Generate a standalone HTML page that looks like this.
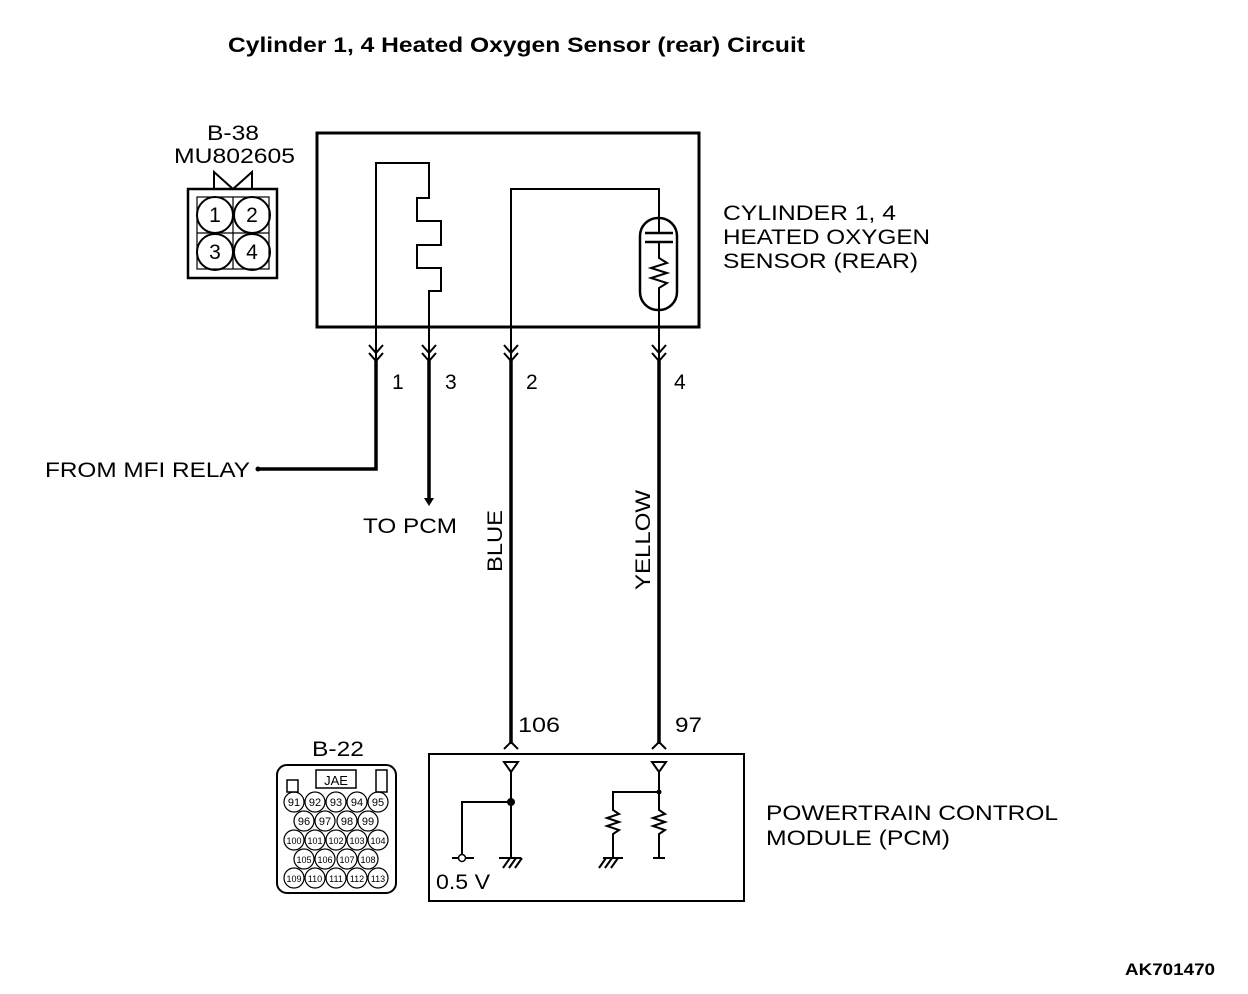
<!DOCTYPE html>
<html><head><style>
body{margin:0;background:#fff}
svg{display:block}
text{font-family:"Liberation Sans",Arial,sans-serif;fill:#000}
</style></head><body>
<svg width="1248" height="994" viewBox="0 0 1248 994" xmlns="http://www.w3.org/2000/svg">
<text x="228" y="52" font-size="21" font-weight="bold" textLength="577" lengthAdjust="spacingAndGlyphs">Cylinder 1, 4 Heated Oxygen Sensor (rear) Circuit</text>

<!-- B-38 connector -->
<text x="207" y="140" font-size="21" textLength="52" lengthAdjust="spacingAndGlyphs">B-38</text>
<text x="174" y="163" font-size="21" textLength="121" lengthAdjust="spacingAndGlyphs">MU802605</text>
<polyline points="214,189 214,172 233,189 252,172 252,189" fill="none" stroke="#000" stroke-width="2"/>
<rect x="188" y="189" width="89" height="89" fill="none" stroke="#000" stroke-width="2.5"/>
<rect x="197" y="197" width="72" height="72" fill="none" stroke="#000" stroke-width="1.2"/>
<line x1="233" y1="197" x2="233" y2="269" stroke="#000" stroke-width="1.2"/>
<line x1="197" y1="233" x2="269" y2="233" stroke="#000" stroke-width="1.2"/>
<g fill="none" stroke="#000" stroke-width="2">
<circle cx="215" cy="215" r="18"/><circle cx="252" cy="215" r="18"/>
<circle cx="215" cy="252" r="18"/><circle cx="252" cy="252" r="18"/>
</g>
<g font-size="21" text-anchor="middle">
<text x="215" y="222">1</text><text x="252" y="222">2</text>
<text x="215" y="259">3</text><text x="252" y="259">4</text>
</g>

<!-- Sensor box -->
<rect x="317" y="133" width="382" height="194" fill="none" stroke="#000" stroke-width="3"/>
<g fill="none" stroke="#000" stroke-width="2">
<polyline points="376,360 376,163 429,163 429,198 417,198 417,221 441,221 441,245 417,245 417,268 441,268 441,291 429,291 429,360"/>
<polyline points="511,360 511,189 659,189 659,218"/>
<rect x="640" y="218" width="37" height="92" rx="18" ry="18" stroke-width="2.5"/>
<line x1="659" y1="218" x2="659" y2="233"/>
<line x1="645" y1="233" x2="673" y2="233" stroke-width="2.5"/>
<line x1="645" y1="242" x2="673" y2="242" stroke-width="2.5"/>
<polyline points="659,242 659,258 667,263 651,268 667,273 651,278 667,283 659,288 659,360"/>
</g>
<g font-size="21">
<text x="723" y="220" textLength="173" lengthAdjust="spacingAndGlyphs">CYLINDER 1, 4</text>
<text x="723" y="244" textLength="207" lengthAdjust="spacingAndGlyphs">HEATED OXYGEN</text>
<text x="723" y="268" textLength="195" lengthAdjust="spacingAndGlyphs">SENSOR (REAR)</text>
</g>
<!-- double arrows -->
<g fill="none" stroke="#000" stroke-width="2">
<polyline points="369,345 376,353 383,345"/><polyline points="369,353 376,361 383,353"/>
<polyline points="422,345 429,353 436,345"/><polyline points="422,353 429,361 436,353"/>
<polyline points="504,345 511,353 518,345"/><polyline points="504,353 511,361 518,353"/>
<polyline points="652,345 659,353 666,345"/><polyline points="652,353 659,361 666,353"/>
</g>
<g font-size="21">
<text x="392" y="389">1</text><text x="445" y="389">3</text>
<text x="526" y="389">2</text><text x="674" y="389">4</text>
</g>

<!-- thick wires -->
<g fill="none" stroke="#000" stroke-width="3.5">
<polyline points="376,358 376,469 258,469"/>
<line x1="429" y1="358" x2="429" y2="500"/>
<line x1="511" y1="358" x2="511" y2="744"/>
<line x1="659" y1="358" x2="659" y2="744"/>
</g>
<circle cx="258" cy="469" r="2.5" fill="#000"/>
<polygon points="424,498 434,498 429,506" fill="#000"/>
<text x="45" y="477" font-size="21" textLength="205" lengthAdjust="spacingAndGlyphs">FROM MFI RELAY</text>
<text x="363" y="533" font-size="21" textLength="94" lengthAdjust="spacingAndGlyphs">TO PCM</text>
<text transform="translate(502,541) rotate(-90)" font-size="21" text-anchor="middle" textLength="62" lengthAdjust="spacingAndGlyphs">BLUE</text>
<text transform="translate(650,540) rotate(-90)" font-size="21" text-anchor="middle" textLength="100" lengthAdjust="spacingAndGlyphs">YELLOW</text>
<text x="518" y="732" font-size="21" textLength="42" lengthAdjust="spacingAndGlyphs">106</text>
<text x="675" y="732" font-size="21" textLength="27" lengthAdjust="spacingAndGlyphs">97</text>
<g fill="none" stroke="#000" stroke-width="2">
<polyline points="504,749 511,742 518,749"/>
<polyline points="652,749 659,742 666,749"/>
</g>

<!-- PCM box -->
<rect x="429" y="754" width="315" height="147" fill="none" stroke="#000" stroke-width="2"/>
<g fill="none" stroke="#000" stroke-width="2">
<polygon points="504,762 518,762 511,772"/>
<polygon points="652,762 666,762 659,772"/>
<polyline points="511,772 511,858"/>
<polyline points="511,802 462,802 462,855"/>
<line x1="452" y1="858" x2="474" y2="858"/>
<line x1="499" y1="858" x2="521" y2="858"/>
<line x1="503" y1="868" x2="510" y2="858"/><line x1="509" y1="868" x2="516" y2="858"/><line x1="515" y1="868" x2="522" y2="858"/>
<polyline points="659,772 659,810 665,814 653,818 665,822 653,826 665,830 659,834 659,858"/>
<line x1="653" y1="858" x2="665" y2="858"/>
<polyline points="659,792 613,792 613,810 619,814 607,818 619,822 607,826 619,830 613,834 613,858"/>
<line x1="603" y1="858" x2="623" y2="858"/>
<line x1="599" y1="868" x2="606" y2="858"/><line x1="605" y1="868" x2="612" y2="858"/><line x1="611" y1="868" x2="618" y2="858"/>
</g>
<circle cx="511" cy="802" r="4" fill="#000"/>
<circle cx="659" cy="792" r="2.5" fill="#000"/>
<circle cx="462" cy="858" r="3.5" fill="#fff" stroke="#000" stroke-width="1.5"/>
<text x="436" y="889" font-size="21" textLength="54" lengthAdjust="spacingAndGlyphs">0.5 V</text>
<text x="766" y="820" font-size="21" textLength="292" lengthAdjust="spacingAndGlyphs">POWERTRAIN CONTROL</text>
<text x="766" y="845" font-size="21" textLength="184" lengthAdjust="spacingAndGlyphs">MODULE (PCM)</text>

<!-- B-22 -->
<text x="312" y="756" font-size="21" textLength="52" lengthAdjust="spacingAndGlyphs">B-22</text>
<rect x="277" y="765" width="119" height="128" rx="10" ry="10" fill="none" stroke="#000" stroke-width="2"/>
<rect x="287" y="780" width="11" height="12" fill="none" stroke="#000" stroke-width="1.5"/>
<rect x="316" y="770" width="40" height="18" fill="none" stroke="#000" stroke-width="1.5"/>
<text x="336" y="785" font-size="13" font-family="Liberation Serif" text-anchor="middle">JAE</text>
<rect x="376" y="770" width="11" height="22" fill="none" stroke="#000" stroke-width="1.5"/>
<g fill="none" stroke="#000" stroke-width="1.2">
<circle cx="294" cy="802" r="10"/><circle cx="315" cy="802" r="10"/><circle cx="336" cy="802" r="10"/><circle cx="357" cy="802" r="10"/><circle cx="378" cy="802" r="10"/>
<circle cx="304" cy="821" r="10"/><circle cx="325" cy="821" r="10"/><circle cx="347" cy="821" r="10"/><circle cx="368" cy="821" r="10"/>
<circle cx="294" cy="840" r="10"/><circle cx="315" cy="840" r="10"/><circle cx="336" cy="840" r="10"/><circle cx="357" cy="840" r="10"/><circle cx="378" cy="840" r="10"/>
<circle cx="304" cy="859" r="10"/><circle cx="325" cy="859" r="10"/><circle cx="347" cy="859" r="10"/><circle cx="368" cy="859" r="10"/>
<circle cx="294" cy="878" r="10"/><circle cx="315" cy="878" r="10"/><circle cx="336" cy="878" r="10"/><circle cx="357" cy="878" r="10"/><circle cx="378" cy="878" r="10"/>
</g>
<g font-size="11" text-anchor="middle">
<text x="294" y="806">91</text><text x="315" y="806">92</text><text x="336" y="806">93</text><text x="357" y="806">94</text><text x="378" y="806">95</text>
<text x="304" y="825">96</text><text x="325" y="825">97</text><text x="347" y="825">98</text><text x="368" y="825">99</text>
<text x="294" y="844" font-size="9">100</text><text x="315" y="844" font-size="9">101</text><text x="336" y="844" font-size="9">102</text><text x="357" y="844" font-size="9">103</text><text x="378" y="844" font-size="9">104</text>
<text x="304" y="863" font-size="9">105</text><text x="325" y="863" font-size="9">106</text><text x="347" y="863" font-size="9">107</text><text x="368" y="863" font-size="9">108</text>
<text x="294" y="882" font-size="9">109</text><text x="315" y="882" font-size="9">110</text><text x="336" y="882" font-size="9">111</text><text x="357" y="882" font-size="9">112</text><text x="378" y="882" font-size="9">113</text>
</g>

<text x="1125" y="975" font-size="17" font-weight="bold" textLength="90" lengthAdjust="spacingAndGlyphs">AK701470</text>
</svg>
</body></html>
